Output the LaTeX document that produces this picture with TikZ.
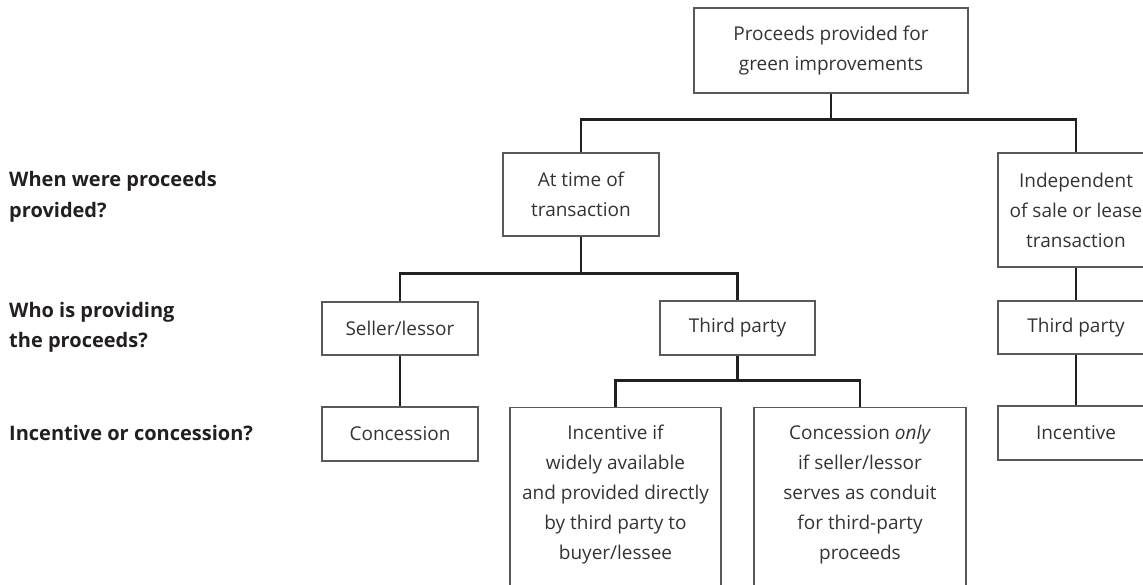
\documentclass[tikz,border=0pt]{standalone}
\usepackage{fontspec}
\setmainfont{Open Sans}
\usetikzlibrary{positioning,calc}
\definecolor{gpline}{HTML}{231F20}
\definecolor{gpbox}{HTML}{58595B}
\definecolor{gptext}{HTML}{333333}
\tikzset{
  box/.style={draw=gpbox, line width=1.2pt, align=center, text=gptext,
    font=\fontsize{19}{30}\selectfont, inner sep=0pt},
  boxtext/.style={align=center, text=gptext,
    font=\fontsize{19}{30}\selectfont, inner sep=0pt, anchor=north},
  conn/.style={gpline, line width=2.8pt},
  question/.style={anchor=west, align=left, text=gpline,
    font=\fontsize{20}{30.5}\selectfont\bfseries, inner sep=0pt},
}

\begin{document}
\begin{tikzpicture}[x=1pt, y=1pt]
    \useasboundingbox (0,0) rectangle (1143,-584);
    \clip (0,0) rectangle (1143,-584);
    % questions on the left
    \node[question] (qwhen) at (9,-197) {When were proceeds\\provided?};
    \node[question] (qwho) at (9,-327.5) {Who is providing\\the proceeds?};
    \node[question] (qkind) at (9,-433) {Incentive or concession?};
    % tree
    \node[box, minimum width=274, minimum height=85] (proceeds) at (831,-50.5)
      {Proceeds provided for\\green improvements};
    \node[box, minimum width=156, minimum height=83] (attime) at (581,-194.5)
      {At time of\\transaction};
    \node[box, minimum width=156, minimum height=114] (indep) at (1076,-210)
      {Independent\\of sale or lease\\transaction};
    \node[box, minimum width=156, minimum height=53] (seller) at (400,-328.5)
      {Seller/lessor};
    \node[box, minimum width=155, minimum height=54] (third) at (737.5,-328)
      {Third party};
    \node[box, minimum width=156, minimum height=53] (thirdR) at (1076,-327.5)
      {Third party};
    \node[box, minimum width=156, minimum height=54] (conc) at (400,-434)
      {Concession};
    \node[box, minimum width=156, minimum height=54] (incR) at (1076,-433)
      {Incentive};
    \node[box, anchor=north, minimum width=211, minimum height=200] (incif) at (615.5,-407) {};
    \node[boxtext, yshift=-18] (incifText) at (incif.north)
      {Incentive if\\widely available\\and provided directly\\by third party to\\buyer/lessee};
    \node[box, anchor=north, minimum width=212, minimum height=200] (conconly) at (860,-407) {};
    \node[boxtext, yshift=-18] (conconlyText) at (conconly.north)
      {Concession \emph{only}\\if seller/lessor\\serves as conduit\\for third-party\\proceeds};
    % connectors
    \draw[conn] (proceeds.south) -- ++(0,-26) -| (attime.north);
    \draw[conn] (proceeds.south) -- ++(0,-26) -| (indep.north);
    \draw[conn] (attime.south) -- ++(0,-37) -| (seller.north);
    \draw[conn] (attime.south) -- ++(0,-37) -| (third.north);
    \draw[conn] (third.south) -- ++(0,-25) -| (incif.north);
    \draw[conn] (third.south) -- ++(0,-25) -| (conconly.north);
    \draw[conn] (seller) -- (conc);
    \draw[conn] (indep) -- (thirdR);
    \draw[conn] (thirdR) -- (incR);
\end{tikzpicture}
\end{document}
